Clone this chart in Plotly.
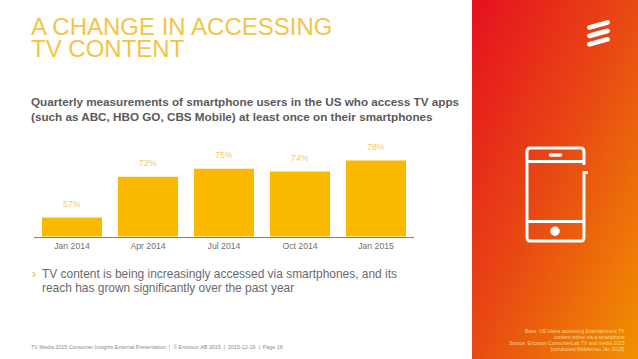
import plotly.graph_objects as go

categories = ["Jan 2014", "Apr 2014", "Jul 2014", "Oct 2014", "Jan 2015"]
values = [57, 72, 75, 74, 78]
title_lines = ["A CHANGE IN ACCESSING", "TV CONTENT"]
subtitle_lines = ["Quarterly measurements of smartphone users in the US who access TV apps",
                  "(such as ABC, HBO GO, CBS Mobile) at least once on their smartphones"]
bullet_lines = ["TV content is being increasingly accessed via smartphones, and its",
                "reach has grown significantly over the past year"]
footer = "TV Media 2015 Consumer Insights External Presentation  |  © Ericsson AB 2015  |  2015-12-16  |  Page 16"
source_lines = ["Base: US Users accessing Entertainment TV", "content online via a smartphone",
                "Source: Ericsson ConsumerLab TV and media 2015", "[conducted Mobileinsu Jan 2015]"]

W, H = 638, 359
FONT = "Liberation Sans"
def px(x): return x / W
def py(y): return 1 - y / H

fig = go.Figure()
fig.add_trace(go.Heatmap(z=[[0, 1], [1, 2]], x=[0, 1], y=[0, 1], xaxis="x2", yaxis="y2",
                         zsmooth="best", showscale=False, hoverinfo="skip",
                         colorscale=[[0, "#e5101f"], [0.5, "#e84b12"], [1, "#f09200"]]))
fig.add_trace(go.Bar(x=categories, y=values, width=0.79, marker_color="#fbba00", marker_line_width=0))

ann = []
def text(x, y, s, size, color, anchor="left", bold=False):
    ann.append(dict(x=px(x), y=py(y), xref="paper", yref="paper", text=f"<b>{s}</b>" if bold else s,
                    showarrow=False, xanchor=anchor, yanchor="middle", align=anchor,
                    borderpad=0, borderwidth=0,
                    font=dict(size=size, color=color, family=FONT)))

for c, v in zip(categories, values):
    ann.append(dict(x=c, y=v, xref="x", yref="y", text=f"{v}%", showarrow=False, yanchor="middle",
                    yshift=13.5, font=dict(size=8.8, color="#f6ca5e", family=FONT)))

for s, y in zip(title_lines, [27, 49]):
    text(31, y, s, 24, "#f3c544")
for s, y in zip(subtitle_lines, [102, 116]):
    text(31, y, s, 11.7, "#5a5a5c", bold=True)
text(32, 274, "›", 12, "#f0b040")
for s, y in zip(bullet_lines, [274, 288]):
    text(42, y, s, 11.95, "#6a6a6c")
text(31, 347, footer, 5.35, "#8a8a8c")
for s, y in zip(source_lines, [331, 337, 343, 349]):
    text(625, y, s, 5, "#fbd98a", anchor="right")

def capsule(x0, y0, x1, y1, r):
    dx, dy = x1 - x0, y1 - y0
    n = (dx * dx + dy * dy) ** 0.5
    ux, uy = dx / n, dy / n
    nx, ny = -uy * r, ux * r
    k = 1.33
    P = lambda x, y: f"{px(x):.5f},{py(y):.5f}"
    return (f"M{P(x0+nx,y0+ny)} L{P(x1+nx,y1+ny)} "
            f"C{P(x1+nx+ux*r*k,y1+ny+uy*r*k)} {P(x1-nx+ux*r*k,y1-ny+uy*r*k)} {P(x1-nx,y1-ny)} "
            f"L{P(x0-nx,y0-ny)} "
            f"C{P(x0-nx-ux*r*k,y0-ny-uy*r*k)} {P(x0+nx-ux*r*k,y0+ny-uy*r*k)} {P(x0+nx,y0+ny)} Z")

W_LINE = dict(color="white", width=3)
NOLINE = dict(width=0)
shapes = []
for dy in (0, 8.4, 16.8):
    shapes.append(dict(type="path", xref="paper", yref="paper", path=capsule(589.5, 27.5 + dy, 607.5, 22.5 + dy, 2.4),
                       fillcolor="white", line=NOLINE))

P = lambda x, y: f"{px(x):.5f},{py(y):.5f}"
phone = (f"M{P(588,172.5)} L{P(584,172.5)} L{P(584,237)} C{P(584,240)} {P(583,241)} {P(581,241)} L{P(530,241)} "
         f"C{P(528,241)} {P(527,240)} {P(527,237)} L{P(527,152)} C{P(527,149)} {P(528,148)} {P(530,148)} "
         f"L{P(581,148)} C{P(583,148)} {P(584,149)} {P(584,152)} L{P(584,165)}")
shapes.append(dict(type="path", xref="paper", yref="paper", path=phone, line=W_LINE))
for y in (161.5, 221.5):
    shapes.append(dict(type="line", xref="paper", yref="paper", x0=px(527), x1=px(584), y0=py(y), y1=py(y), line=W_LINE))
shapes.append(dict(type="path", xref="paper", yref="paper", path=capsule(550.5, 155, 560.5, 155, 1.7),
                   fillcolor="white", line=NOLINE))
shapes.append(dict(type="circle", xref="paper", yref="paper", x0=px(550.3), x1=px(559.7), y0=py(236), y1=py(226.6),
                   fillcolor="white", line=NOLINE))

fig.update_layout(
    width=W, height=H, margin=dict(l=0, r=0, t=0, b=0), autosize=False,
    paper_bgcolor="white", plot_bgcolor="rgba(0,0,0,0)", showlegend=False, bargap=0.21,
    annotations=ann, shapes=shapes,
    xaxis=dict(domain=[px(34), px(414)], type="category", showgrid=False, showline=True, linecolor="#808080",
               linewidth=1, ticks="", ticklabelstandoff=1, tickfont=dict(size=8.7, color="#707072", family=FONT)),
    yaxis=dict(domain=[py(236.5), py(140)], range=[50, 85.6], visible=False),
    xaxis2=dict(domain=[px(472), 1], range=[0, 1], visible=False, anchor="y2"),
    yaxis2=dict(domain=[0, 1], range=[1, 0], visible=False, anchor="x2"),
)
fig.write_html("out.html", config=dict(displayModeBar=False),
               post_script="document.body.style.margin='0';document.documentElement.style.overflow='hidden';")
